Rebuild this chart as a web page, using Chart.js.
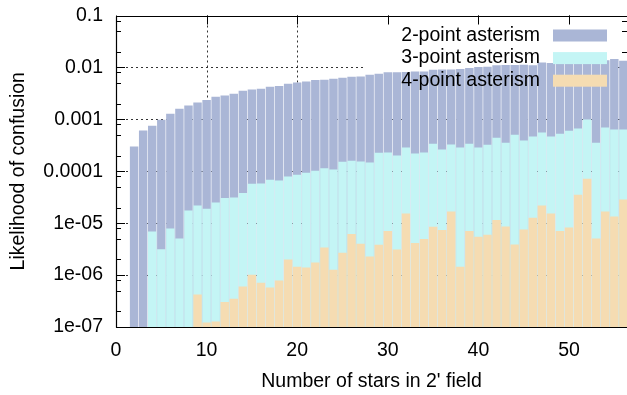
<!DOCTYPE html>
<html>
<head>
<meta charset="utf-8">
<script src="https://cdn.jsdelivr.net/npm/chart.js@4.4.0/dist/chart.umd.min.js"></script>
<style>
  html, body { margin: 0; padding: 0; background: #fff; }
  #wrap { width: 627px; height: 395px; }
</style>
</head>
<body>
<div id="wrap"><canvas id="chart"></canvas></div>
<script>
// Number of stars in the field (one bar per count)
const starCounts = [2, 3, 4, 5, 6, 7, 8, 9, 10, 11, 12, 13, 14, 15, 16, 17, 18, 19, 20,
  21, 22, 23, 24, 25, 26, 27, 28, 29, 30, 31, 32, 33, 34, 35, 36, 37, 38, 39, 40,
  41, 42, 43, 44, 45, 46, 47, 48, 49, 50, 51, 52, 53, 54, 55, 56];

const twoPoint = [2.96e-4, 6.0e-4, 7.4e-4, 9.7e-4, 1.26e-3, 1.58e-3, 1.83e-3, 2.09e-3, 2.32e-3,
  2.69e-3, 2.85e-3, 3.07e-3, 3.51e-3, 3.72e-3, 3.84e-3, 4.19e-3, 4.33e-3, 4.79e-3, 5.07e-3,
  5.30e-3, 5.64e-3, 5.72e-3, 5.98e-3, 6.25e-3, 6.53e-3, 6.62e-3, 7.14e-3, 7.46e-3, 7.91e-3,
  7.91e-3, 8.05e-3, 8.26e-3, 8.26e-3, 8.91e-3, 9.03e-3, 9.03e-3, 9.19e-3, 9.6e-3, 1.0e-2,
  1.02e-2, 1.08e-2, 1.10e-2, 1.10e-2, 1.11e-2, 1.08e-2, 1.23e-2, 1.20e-2, 1.20e-2, 1.21e-2,
  1.21e-2, 1.23e-2, 1.25e-2, 1.35e-2, 1.43e-2, 1.33e-2];

const threePoint = [null, null, 6.8e-6, 3.1e-6, 7.8e-6, 5.0e-6, 1.73e-5, 2.16e-5, 1.87e-5,
  2.47e-5, 3.0e-5, 3.09e-5, 3.75e-5, 5.67e-5, 5.74e-5, 6.77e-5, 6.56e-5, 7.83e-5, 8.45e-5,
  9.23e-5, 1.01e-4, 1.12e-4, 1.07e-4, 1.50e-4, 1.57e-4, 1.52e-4, 1.46e-4, 2.24e-4, 2.27e-4,
  1.99e-4, 2.84e-4, 2.17e-4, 2.27e-4, 3.34e-4, 2.6e-4, 3.24e-4, 2.84e-4, 3.34e-4, 2.84e-4,
  3.2e-4, 4.36e-4, 3.49e-4, 4.98e-4, 3.87e-4, 4.62e-4, 5.52e-4, 4.62e-4, 5.21e-4, 5.95e-4,
  6.59e-4, 9.8e-4, 3.49e-4, 6.89e-4, 6.3e-4, 6.3e-4];

const fourPoint = [null, null, null, null, null, null, null, 4.17e-7, 1.2e-7,
  1.26e-7, 2.98e-7, 3.45e-7, 5.95e-7, 1.0e-6, 7.0e-7, 5.7e-7, 7.76e-7, 1.97e-6, 1.43e-6,
  1.38e-6, 1.73e-6, 3.36e-6, 1.25e-6, 2.65e-6, 6.08e-6, 3.96e-6, 2.25e-6, 3.79e-6, 6.95e-6,
  3.07e-6, 1.52e-5, 4.08e-6, 4.88e-6, 8.41e-6, 7.26e-6, 1.66e-5, 1.43e-6, 6.95e-6, 5.4e-6,
  5.9e-6, 1.13e-5, 8.5e-6, 3.84e-6, 7.46e-6, 1.25e-5, 2.16e-5, 1.52e-5, 7.0e-6, 8.15e-6,
  3.48e-5, 7.08e-5, 5.0e-6, 1.66e-5, 1.33e-5, 2.82e-5];

const seriesNames = ["2-point asterism", "3-point asterism", "4-point asterism"];
const seriesColors = ["#aab6d6", "#c4f5f5", "#f5dcb2"];

const xTicks = [0, 10, 20, 30, 40, 50];
const yTicks = [1e-7, 1e-6, 1e-5, 1e-4, 1e-3, 1e-2, 1e-1];
const yTickLabels = ["1e-07", "1e-06", "1e-05", "0.0001", "0.001", "0.01", "0.1"];
const yMinorFactors = [2, 5, 8];

const FONT = "'Liberation Sans', Arial, sans-serif";
const FONT_SIZE = 19.5;
Chart.defaults.font.family = FONT;
Chart.defaults.font.size = FONT_SIZE;
Chart.defaults.color = "#000";

function line(ctx, x1, y1, x2, y2) {
  ctx.beginPath();
  ctx.moveTo(x1, y1);
  ctx.lineTo(x2, y2);
  ctx.stroke();
}

// gnuplot-like frame: dotted grid, key backdrop, inward ticks, border and key
const frame = {
  id: "frame",
  beforeDatasetsDraw(chart) {
    const ctx = chart.ctx;
    const { left, right, top, bottom } = chart.chartArea;
    const xs = chart.scales.x, ys = chart.scales.y;
    ctx.save();

    // dotted grid at major ticks
    ctx.strokeStyle = "#333";
    ctx.lineWidth = 1;
    ctx.setLineDash([2, 3]);
    yTicks.slice(1, -1).forEach(v => {
      const py = Math.round(ys.getPixelForValue(v)) + 0.5;
      line(ctx, left, py, right, py);
    });
    xTicks.slice(1).forEach(v => {
      const px = Math.round(xs.getPixelForValue(v)) + 0.5;
      line(ctx, px, top, px, bottom);
    });
    ctx.setLineDash([]);

    // key area hides the grid
    ctx.fillStyle = "#fff";
    ctx.fillRect(363, top + 1, right - 363, 92 - top);

    // inward tick marks
    ctx.strokeStyle = "#000";
    yTicks.forEach(v => {
      const py = Math.round(ys.getPixelForValue(v)) + 0.5;
      line(ctx, left, py, left + 9, py);
      line(ctx, right, py, right - 9, py);
    });
    yTicks.slice(0, -1).forEach(d => {
      yMinorFactors.forEach(f => {
        const py = Math.round(ys.getPixelForValue(d * f)) + 0.5;
        line(ctx, left, py, left + 5, py);
        line(ctx, right, py, right - 5, py);
      });
    });
    xTicks.forEach(v => {
      const px = Math.round(xs.getPixelForValue(v)) + 0.5;
      line(ctx, px, top, px, top + 9);
      line(ctx, px, bottom, px, bottom - 9);
    });
    ctx.restore();
  },
  afterDatasetsDraw(chart) {
    const ctx = chart.ctx;
    const { left, right, top, bottom } = chart.chartArea;
    ctx.save();
    ctx.strokeStyle = "#000";
    ctx.lineWidth = 1.2;
    const l = Math.round(left) + 0.5, t = Math.round(top) + 0.5, b = Math.round(bottom) + 0.5;
    line(ctx, l, t, right, t);
    line(ctx, l, t, l, b);
    line(ctx, l, b, right, b);

    // key
    ctx.font = FONT_SIZE + "px " + FONT;
    ctx.textAlign = "right";
    ctx.textBaseline = "middle";
    seriesNames.forEach((name, i) => {
      const cy = 35.5 + i * 22.6;
      ctx.fillStyle = "#000";
      ctx.fillText(name, 540, cy);
      ctx.fillStyle = seriesColors[i];
      ctx.fillRect(553, cy - 6, 54, 12);
    });
    ctx.restore();
  }
};

const toPoints = (vals) => starCounts.map((n, i) => ({ x: n, y: vals[i] }));

new Chart(document.getElementById("chart"), {
  type: "bar",
  data: {
    datasets: [
      { label: seriesNames[0], data: toPoints(twoPoint), backgroundColor: seriesColors[0], order: 3 },
      { label: seriesNames[1], data: toPoints(threePoint), backgroundColor: seriesColors[1], order: 2 },
      { label: seriesNames[2], data: toPoints(fourPoint), backgroundColor: seriesColors[2], order: 1 },
    ],
  },
  options: {
    responsive: true,
    maintainAspectRatio: false,
    animation: false,
    layout: { padding: { top: 15.5, right: 0, left: 0, bottom: 0 } },
    datasets: { bar: { grouped: false, barThickness: 7.8, borderWidth: 0 } },
    plugins: { legend: { display: false }, tooltip: { enabled: false } },
    scales: {
      x: {
        type: "linear",
        min: 0,
        max: 56.4,
        offset: false,
        afterBuildTicks: (s) => { s.ticks = xTicks.map(v => ({ value: v })); },
        afterFit: (s) => { s.height = 68; s.paddingLeft = 0; s.paddingRight = 0; },
        grid: { display: false, drawTicks: false, offset: false },
        border: { display: false },
        ticks: { padding: 11.7, maxRotation: 0, autoSkip: false },
        title: { display: true, text: "Number of stars in 2' field", padding: { top: 0, bottom: 2 } },
      },
      y: {
        type: "logarithmic",
        min: 1e-7,
        max: 0.1,
        afterBuildTicks: (s) => { s.ticks = yTicks.map(v => ({ value: v })); },
        afterFit: (s) => { s.width = 116; s.paddingTop = 0; s.paddingBottom = 0; },
        grid: { display: false, drawTicks: false },
        border: { display: false },
        ticks: { padding: 13, autoSkip: false, callback: (v, i) => yTickLabels[i] },
        title: { display: true, text: "Likelihood of confusion", padding: { top: 7, bottom: 0 } },
      },
    },
  },
  plugins: [frame],
});
</script>
</body>
</html>
